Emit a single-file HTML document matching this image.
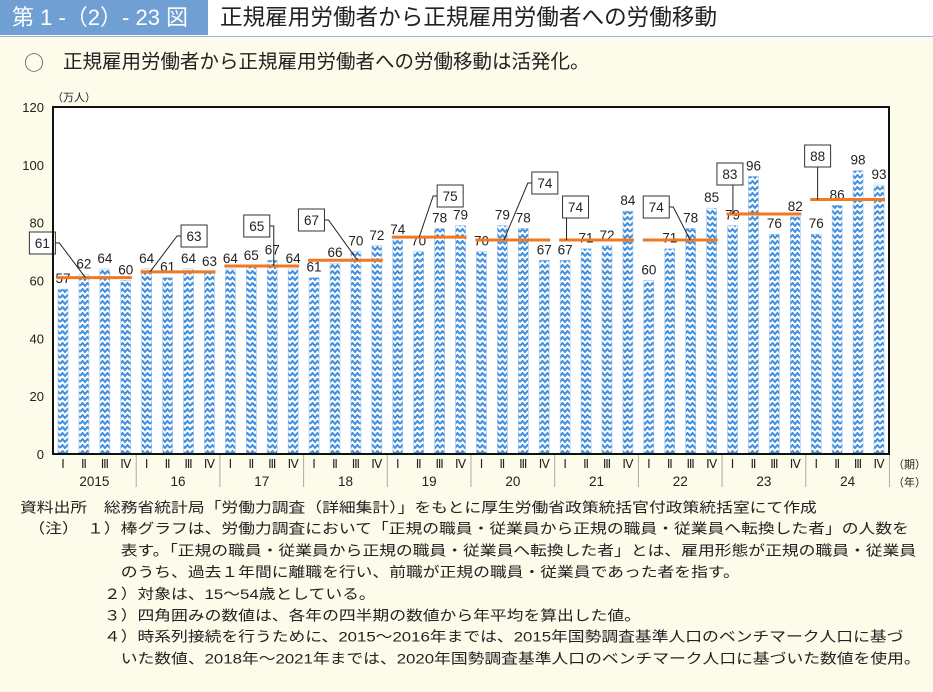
<!DOCTYPE html>
<html><head><meta charset="utf-8">
<style>
body{margin:0;width:933px;height:692px;background:#fdfbea;font-family:"Liberation Sans","Noto Sans CJK JP",sans-serif;position:relative;overflow:hidden;color:#222}
.hdr{position:absolute;left:0;top:0;width:933px;height:36px;background:#fff;border-bottom:1px solid #9bb8d8}
.hdrl{position:absolute;left:0;top:0;width:208px;height:35px;background:#6f9fd3;color:#fff;font-size:22px;line-height:35px;padding-left:12px;box-sizing:border-box}
.hdrt{position:absolute;left:220px;top:0;font-size:22.6px;line-height:35px;color:#222}
.circ{position:absolute;left:24px;top:48px;font-size:20px;font-family:"Noto Sans CJK JP",sans-serif;color:#555;line-height:28px}
.sub{position:absolute;left:63px;top:48px;font-size:19.5px;white-space:nowrap;line-height:28px}
.notes{position:absolute;left:20px;top:497px;font-size:16.8px;transform-origin:0 0;transform:scaleY(0.85)}
.notes div{white-space:nowrap}
</style></head><body>
<div class="hdr">
<div class="hdrl">第 1 -（2）- 23 図</div>
<div class="hdrt">正規雇用労働者から正規雇用労働者への労働移動</div>
</div>
<div class="circ">○</div>
<div class="sub">正規雇用労働者から正規雇用労働者への労働移動は活発化。</div>
<svg id="chart" width="933" height="500" style="position:absolute;left:0;top:0">
<defs>
<pattern id="zz" width="10" height="6" patternUnits="userSpaceOnUse">
<rect width="10" height="6" fill="#fff"/>
<path d="M0,4 L2.5,1 L5,4 L7.5,1 L10,4" stroke="#3f8fe0" stroke-width="2" fill="none"/>
</pattern>
</defs>
</svg>
<div class="notes" style="line-height:25.4px">
<div>資料出所　総務省統計局「労働力調査（詳細集計）」をもとに厚生労働省政策統括官付政策統括室にて作成</div>
<div>　（注）　１）棒グラフは、労働力調査において「正規の職員・従業員から正規の職員・従業員へ転換した者」の人数を</div>
<div>　　　　　　表す。「正規の職員・従業員から正規の職員・従業員へ転換した者」とは、雇用形態が正規の職員・従業員</div>
<div>　　　　　　のうち、過去１年間に離職を行い、前職が正規の職員・従業員であった者を指す。</div>
<div>　　　　　２）対象は、15～54歳としている。</div>
<div>　　　　　３）四角囲みの数値は、各年の四半期の数値から年平均を算出した値。</div>
<div>　　　　　４）時系列接続を行うために、2015～2016年までは、2015年国勢調査基準人口のベンチマーク人口に基づ</div>
<div>　　　　　　いた数値、2018年～2021年までは、2020年国勢調査基準人口のベンチマーク人口に基づいた数値を使用。</div>
</div>
<script>
const years=["2015","16","17","18","19","20","21","22","23","24"];
const quarterLabels=["Ⅰ","Ⅱ","Ⅲ","Ⅳ"];
const values=[57,62,64,60, 64,61,64,63, 64,65,67,64, 61,66,70,72, 74,70,78,79, 70,79,78,67, 67,71,72,84, 60,71,78,85, 79,96,76,82, 76,86,98,93];
const averages=[61,63,65,67,75,74,74,74,83,88];
const yTicks=[0,20,40,60,80,100,120];
// layout: [box dx from year center, box center y, leader end dx]
const boxPos=[[-52,243,-9],[16,236,-28],[-5,226,12],[-34,220,12],[21,196,-10],[32,183,-9],[-21,207,-30],[-24,207,10],[-34,174,-31],[-30,156,-30]];
const svg=document.getElementById('chart');
const NS='http://www.w3.org/2000/svg';
const L=53,R=889,T=107,B=454;
const y=v=>B-(v/120)*(B-T);
const x=i=>63+i*((879-63)/39);
function mk(tag,attrs,parent){const e=document.createElementNS(NS,tag);for(const k in attrs)e.setAttribute(k,attrs[k]);(parent||svg).appendChild(e);return e;}
const plot=mk('rect',{x:L,y:T,width:R-L,height:B-T,fill:'#fff'});


yTicks.forEach(t=>{
 const tx=mk('text',{x:44,y:y(t)+5,'text-anchor':'end','font-size':13,fill:'#222'});
 
 
 tx.textContent=t;
});
const unit=mk('text',{x:52,y:101,'font-size':11,fill:'#222'});


unit.textContent='（万人）';
values.forEach((v,i)=>{
 const b=mk('rect',{x:x(i)-5,y:y(v),width:10,height:B-y(v),fill:'url(#zz)',stroke:'#9ec3ea','stroke-width':0.6});
 
 
 const t=mk('text',{x:x(i),y:y(v)-6,'text-anchor':'middle','font-size':13.5,fill:'#222'});
 
 
 t.textContent=v;
 const q=mk('text',{x:x(i),y:468,'text-anchor':'middle','font-size':12,fill:'#222','font-family':'Liberation Serif,serif'});
 
 
 q.textContent=quarterLabels[i%4];
});
const step=(879-63)/39;
years.forEach((yr,k)=>{
 const x0=x(k*4),x3=x(k*4+3),cx=(x0+x3)/2;
 const sep=mk('line',{x1:x3+step/2,y1:B,x2:x3+step/2,y2:487,stroke:'#aaa','stroke-width':1});
 
 
 const yl=mk('text',{x:cx,y:486,'text-anchor':'middle','font-size':13.5,fill:'#222'});
 
 
 yl.textContent=yr;
 const a=averages[k];
 const ln=mk('line',{x1:x0-6,y1:y(a),x2:x3+6,y2:y(a),stroke:'#f07820','stroke-width':3});
 
 
 const bx=cx+boxPos[k][0],by=boxPos[k][1],ex=cx+boxPos[k][2];
 const sx=ex>bx+13?bx+13:(ex<bx-13?bx-13:ex);
 const sy=(ex>bx+13||ex<bx-13)?by:by+11;
 const ld=mk('polyline',{points:sx+','+sy+' '+(sx+(ex>sx?4:ex<sx?-4:0))+','+sy+' '+ex+','+y(a),stroke:'#222','stroke-width':1,fill:'none'});
 
 
 const br=mk('rect',{x:bx-13,y:by-11,width:26,height:22,fill:'#fff',stroke:'#333','stroke-width':1});
 
 
 const bt=mk('text',{x:bx,y:by+5,'text-anchor':'middle','font-size':13.5,fill:'#222'});
 
 
 bt.textContent=a;
});
const fr=mk('rect',{x:L,y:T,width:R-L,height:B-T,fill:'none',stroke:'#111','stroke-width':2});


const lq=mk('text',{x:893,y:468,'font-size':11,fill:'#222'});


lq.textContent='（期）';
const ly=mk('text',{x:893,y:486,'font-size':11,fill:'#222'});


ly.textContent='（年）';
</script>
</body></html>
